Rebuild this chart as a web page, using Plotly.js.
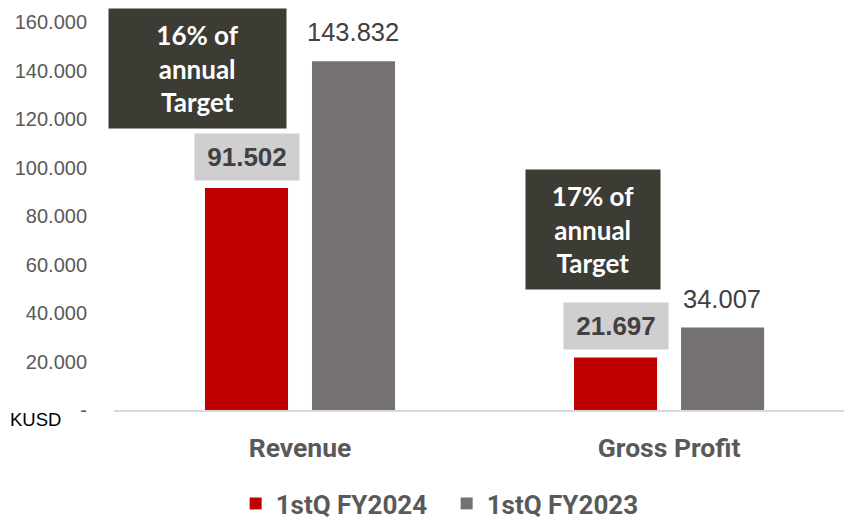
<!DOCTYPE html>
<html><head><meta charset="utf-8">
<script src="https://cdn.plot.ly/plotly-3.0.1.min.js"></script>
<style>body{margin:0;background:#fff}#chart{width:844px;height:520px}</style>
</head><body><div id="chart"></div>
<script>
const categories = ["Revenue", "Gross Profit"];
const fy2024 = [91502, 21697];
const fy2023 = [143832, 34007];
const seriesNames = ["1stQ FY2024", "1stQ FY2023"];
const targetNotes = ["16% of<br>annual<br>Target", "17% of<br>annual<br>Target"];
const tickVals = [0, 20000, 40000, 60000, 80000, 100000, 120000, 140000, 160000];
const tickText = ["-", "20.000", "40.000", "60.000", "80.000", "100.000", "120.000", "140.000", "160.000"];

const fmt = v => v.toLocaleString('de-DE');

const traces = [
  {type:'bar', name:seriesNames[0], x:categories, y:fy2024, marker:{color:'#c00000'}, hoverinfo:'none'},
  {type:'bar', name:seriesNames[1], x:categories, y:fy2023, marker:{color:'#767171'}, hoverinfo:'none'}
];

const annotations = [];
categories.forEach((c, i) => {
  annotations.push({x:c, y:fy2024[i], xref:'x', yref:'y', text:'<b>'+fmt(fy2024[i])+'</b>', showarrow:false,
    xshift:-53.5, yshift:31, yanchor:'middle', bgcolor:'#d0cece', width:104, height:46, borderpad:0,
    font:{family:'Liberation Sans, Arial, sans-serif', size:26, color:'#404040'}});
  annotations.push({x:c, y:fy2023[i], xref:'x', yref:'y', text:fmt(fy2023[i]), showarrow:false,
    xshift:53, yshift:29, yanchor:'middle',
    font:{family:'Liberation Sans, Arial, sans-serif', size:25.5, color:'#404040'}});
});
annotations.push({x:categories[0], y:140825, xref:'x', yref:'y', text:'<b>'+targetNotes[0]+'</b>', showarrow:false,
  xshift:-102.5, bgcolor:'#3c3b34', width:177, height:119, borderpad:0, yanchor:'middle',
  font:{family:'Lato, sans-serif', size:26, color:'#ffffff'}});
annotations.push({x:categories[1], y:74433, xref:'x', yref:'y', text:'<b>'+targetNotes[1]+'</b>', showarrow:false,
  xshift:-76, bgcolor:'#3c3b34', width:134, height:119, borderpad:0, yanchor:'middle',
  font:{family:'Lato, sans-serif', size:26, color:'#ffffff'}});
annotations.push({xref:'paper', yref:'paper', x:(8-114)/730, y:(410-420)/400,
  xanchor:'left', yanchor:'middle', text:'KUSD', showarrow:false,
  font:{family:'Liberation Sans, Arial, sans-serif', size:18.5, color:'#000000'}});

const layout = {
  width:844, height:520,
  margin:{l:114, r:0, t:10, b:110},
  paper_bgcolor:'#ffffff', plot_bgcolor:'#ffffff',
  barmode:'group', bargap:0.42, bargroupgap:0.224,
  showlegend:true,
  legend:{orientation:'h', xref:'container', yref:'container', x:0.5292, xanchor:'center', y:(520-503.5)/520, yanchor:'middle',
    entrywidth:166, entrywidthmode:'pixels',
    font:{family:'Roboto, sans-serif', size:26, color:'#595959', weight:'bold'}},
  xaxis:{type:'category', range:[-0.504, 1.474], showline:true, linecolor:'#d9d9d9', linewidth:2,
    ticks:'', ticklabelstandoff:13,
    tickfont:{family:'Roboto, sans-serif', size:26.5, color:'#595959', weight:'bold'}, fixedrange:true},
  yaxis:{range:[0, 164948], tickvals:tickVals, ticktext:tickText, showgrid:false, zeroline:false,
    showline:false, ticks:'', ticklabelstandoff:26,
    tickfont:{family:'Liberation Sans, Arial, sans-serif', size:20, color:'#595959'}, fixedrange:true},
  annotations: annotations
};

Plotly.newPlot('chart', traces, layout, {displayModeBar:false, staticPlot:true});
</script></body></html>
